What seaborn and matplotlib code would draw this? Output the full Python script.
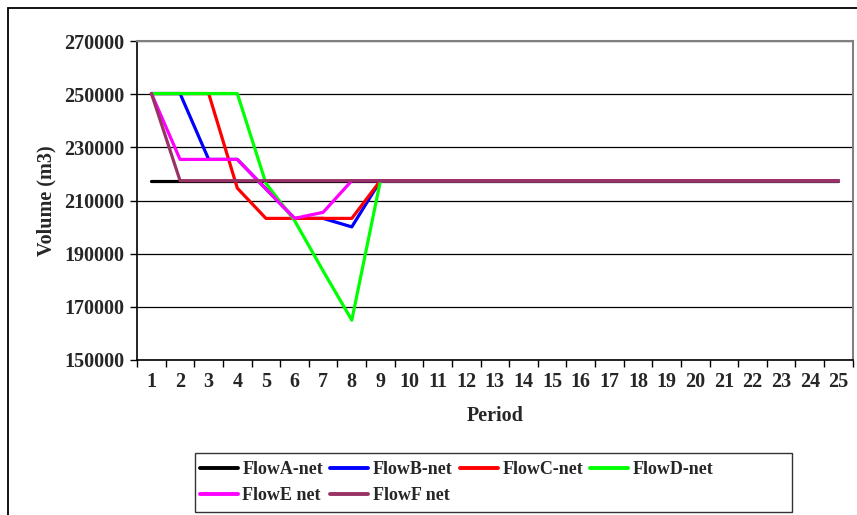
import numpy as np
import pandas as pd
import seaborn as sns
import matplotlib.pyplot as plt
from matplotlib.patches import Rectangle

# values (m3), periods 1..25
periods = list(range(1, 26))
flow_a = [217500] * 25
flow_b = [250300, 250300, 225500, 225500, 214400, 203300, 203300, 200100] + [217500] * 17
flow_c = [250300, 250300, 250300, 214700, 203300, 203300, 203300, 203300] + [217500] * 17
flow_d = [250300, 250300, 250300, 250300, 216500, 202500, 183500, 165000] + [217500] * 17
flow_e = [250300, 225500, 225500, 225500, 214400, 203300, 205600] + [217500] * 18
flow_f = [250300] + [217500] * 24

series_names = ['FlowA-net', 'FlowB-net', 'FlowC-net', 'FlowD-net', 'FlowE net', 'FlowF net']
series_vals = [flow_a, flow_b, flow_c, flow_d, flow_e, flow_f]
colors = ['#000000', '#0000ff', '#ff0000', '#00ff00', '#ff00ff', '#993366']

df = pd.DataFrame({
    'Period': np.tile(periods, len(series_names)),
    'Volume': np.concatenate(series_vals),
    'Flow': np.repeat(series_names, len(periods)),
})

sns.set_theme(style='white')
plt.rcParams['font.family'] = ['Liberation Serif', 'DejaVu Serif']
plt.rcParams['font.weight'] = 'bold'

fig = plt.figure(figsize=(8.57, 5.15), dpi=100)
ax = fig.add_axes([0.160, 0.301, 0.835, 0.619])

sns.lineplot(data=df, x='Period', y='Volume', hue='Flow', palette=colors,
             hue_order=series_names, linewidth=2.3, ax=ax, legend=True)

ax.set_xlim(0.5, 25.5)
ax.set_ylim(150000, 270000)
ax.set_yticks(np.arange(150000, 270001, 20000))
ax.set_yticklabels([str(v) for v in range(150000, 270001, 20000)], fontsize=14.5, fontweight='bold')
ax.yaxis.grid(True, color='#000000', linewidth=0.9)
ax.set_axisbelow(True)

# category-style x axis: ticks between categories, labels centered
ax.set_xticks(np.arange(0.5, 25.6, 1))
ax.set_xticklabels([])
ax.set_xticks(periods, minor=True)
ax.set_xticklabels([str(p) for p in periods], minor=True, fontsize=14.5, fontweight='bold')
ax.tick_params(axis='x', which='major', direction='out', length=5, width=1, color='black', bottom=True)
ax.tick_params(axis='x', which='minor', length=0, pad=9)
ax.tick_params(axis='y', direction='out', length=5, width=1, color='black', left=True, pad=4)

for side in ['left', 'bottom']:
    ax.spines[side].set_color('black')
    ax.spines[side].set_linewidth(1.2)
for side in ['top', 'right']:
    ax.spines[side].set_color('#808080')
    ax.spines[side].set_linewidth(1.5)

ax.set_xlabel('Period', fontsize=14.5, fontweight='bold', labelpad=10)
ax.set_ylabel('Volume (m3)', fontsize=14.5, fontweight='bold', labelpad=6)

handles, labels = ax.get_legend_handles_labels()
ax.get_legend().remove()
# matplotlib fills legend columns first; reorder so rows read A B C D / E F
order = [0, 4, 1, 5, 2, 3]
leg = fig.legend([handles[i] for i in order], [labels[i] for i in order], ncol=4, loc='upper left',
                 bbox_to_anchor=(200 / 857, 1 - 461 / 515),
                 fontsize=13, frameon=False, handlelength=2.1,
                 handletextpad=0.25, columnspacing=0.4, borderpad=0.0, labelspacing=0.5,
                 borderaxespad=0)
for t in leg.get_texts():
    t.set_fontweight('bold')
for h in leg.get_lines():
    h.set_linewidth(2.8)

# legend box, wider than its entries as in the original
fig.patches.append(Rectangle((195 / 857, 1 - 512 / 515), 597 / 857, 59 / 515, transform=fig.transFigure,
                             fill=False, edgecolor='#333333', linewidth=1.0))

# outer chart border (only top and left visible)
fig.patches.append(Rectangle((0.0093, -0.1), 1.2, 1.1 - 0.0165, transform=fig.transFigure,
                             fill=False, edgecolor='black', linewidth=1.3))

fig.savefig('out.png', dpi=100)
